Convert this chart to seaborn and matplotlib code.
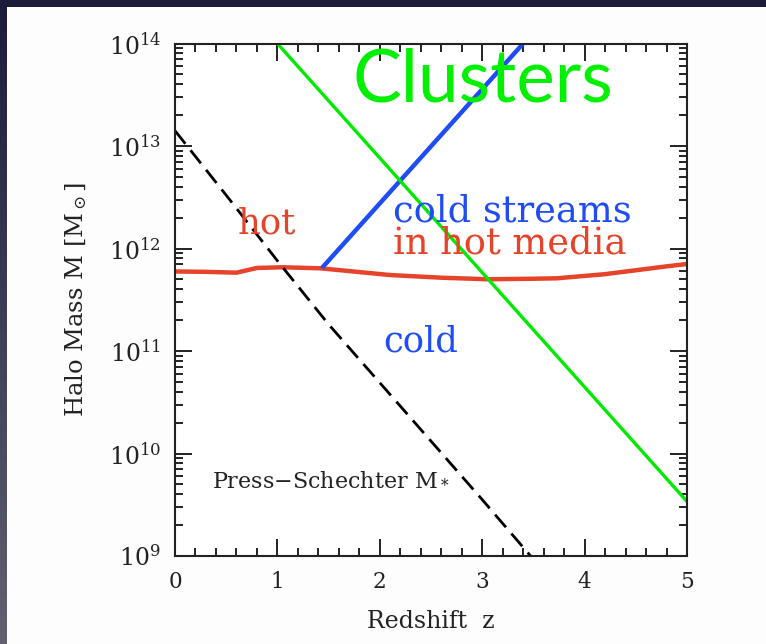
import numpy as np
import pandas as pd
import matplotlib
matplotlib.use("Agg")
import matplotlib.pyplot as plt
from matplotlib.patches import Rectangle
from matplotlib.ticker import LogLocator, MultipleLocator, NullFormatter, FixedLocator
import seaborn as sns

# Critical halo mass for virial shock heating versus redshift
z_shock = [0.0, 0.3, 0.6, 0.8, 1.05, 1.42, 1.8, 2.1, 2.6, 3.05, 3.5, 3.73, 4.2, 4.83, 5.0]
m_shock = [5.97e11, 5.92e11, 5.81e11, 6.46e11, 6.56e11, 6.41e11, 5.89e11, 5.51e11,
           5.19e11, 5.01e11, 5.07e11, 5.12e11, 5.62e11, 6.75e11, 7.06e11]

# Upper limit for cold streams penetrating hot haloes
z_stream = [1.435, 3.40]
m_stream = [6.46e11, 1.0e14]

# Cluster-scale boundary
z_cluster = [1.0, 5.0]
m_cluster = [1.0e14, 3.4e9]

# Press-Schechter characteristic mass M*
z_ps = [0.0, 0.5, 1.0, 1.5, 2.0, 2.5, 3.0, 3.5]
m_ps = [1.41e13, 3.31e12, 7.59e11, 1.82e11, 4.90e10, 1.32e10, 3.55e9, 9.3e8]

x_ticks = [0, 1, 2, 3, 4, 5]
y_ticks = [1e9, 1e10, 1e11, 1e12, 1e13, 1e14]

RED = "#e6432b"
BLUE = "#1f4cf5"
GREEN = "#00ea00"
INK = "#222222"

sns.set_theme(style="white")
plt.rcParams["font.family"] = ["DejaVu Serif"]
plt.rcParams["mathtext.fontset"] = "dejavuserif"

W, H = 766, 644
fig = plt.figure(figsize=(W / 100, H / 100), dpi=100)

# dark slide backdrop with a white panel
bg = fig.add_axes([0, 0, 1, 1], zorder=-10)
top = np.array([27, 27, 58]) / 255
bot = np.array([97, 97, 112]) / 255
t = np.linspace(0, 1, 200)[:, None, None]
grad = (1 - t) * top + t * bot
bg.imshow(grad, aspect="auto", extent=[0, 1, 0, 1], origin="upper")
bg.add_patch(Rectangle((7 / W, 0), 1, 1 - 7 / H, color="#fdfdfd", lw=0))
bg.set_xlim(0, 1)
bg.set_ylim(0, 1)
bg.axis("off")

ax = fig.add_axes([175 / W, 88 / H, 512 / W, 512.5 / H])
ax.set_facecolor("white")
ax.set_yscale("log")

sns.lineplot(x=z_shock, y=m_shock, ax=ax, color=RED, lw=3.2, sort=False, estimator=None)
sns.lineplot(x=z_stream, y=m_stream, ax=ax, color=BLUE, lw=3.2, sort=False, estimator=None)
sns.lineplot(x=z_cluster, y=m_cluster, ax=ax, color=GREEN, lw=2.4, sort=False, estimator=None)
sns.lineplot(x=z_ps, y=m_ps, ax=ax, color="black", lw=2.0, sort=False, estimator=None)
ax.lines[-1].set_linestyle((0, (6, 3)))
for ln in ax.lines:
    ln.set_solid_capstyle("butt")
    ln.set_dash_capstyle("butt")
    ln.set_solid_joinstyle("round")

ax.set_xlim(0, 5)
ax.set_ylim(1e9, 1e14)

ax.xaxis.set_major_locator(FixedLocator(x_ticks))
ax.xaxis.set_minor_locator(MultipleLocator(0.2))
ax.yaxis.set_major_locator(FixedLocator(y_ticks))
ax.yaxis.set_minor_locator(LogLocator(base=10, subs=np.arange(2, 10)))
ax.yaxis.set_minor_formatter(NullFormatter())

ax.tick_params(which="both", direction="in", top=True, right=True, bottom=True, left=True,
               colors=INK, width=1.4)
ax.tick_params(which="major", length=12)
ax.tick_params(which="minor", length=6)
ax.tick_params(axis="x", which="major", pad=11, labelsize=15.5)
ax.tick_params(axis="y", which="major", pad=10, labelsize=17)
for sp in ax.spines.values():
    sp.set_visible(True)
    sp.set_linewidth(1.5)
    sp.set_color(INK)

ax.set_xlabel("Redshift  z", fontsize=17, labelpad=12, color=INK)
ax.set_ylabel(r"Halo Mass M [M$_\odot$]", fontsize=17.5, labelpad=14, color=INK)

# region labels
ax.text(1.738, 10**13.43, "Clusters", color="#00f000", fontsize=52.5,
        family=["Lato", "DejaVu Sans"], ha="left", va="baseline")
ax.text(0.615, 10**12.151, "hot", color=RED, fontsize=25.5, ha="left", va="baseline")
ax.text(2.129, 10**12.259, "cold streams", color=BLUE, fontsize=26.5, ha="left", va="baseline")
ax.text(2.129, 10**11.956, "in hot media", color=RED, fontsize=26.5, ha="left", va="baseline")
ax.text(2.03, 10**11.0, "cold", color=BLUE, fontsize=25.5, ha="left", va="baseline")
ax.text(0.361, 10**9.693, r"Press$-$Schechter M$_*$", color=INK, fontsize=16,
        ha="left", va="baseline")

fig.savefig("out.png", dpi=100)
